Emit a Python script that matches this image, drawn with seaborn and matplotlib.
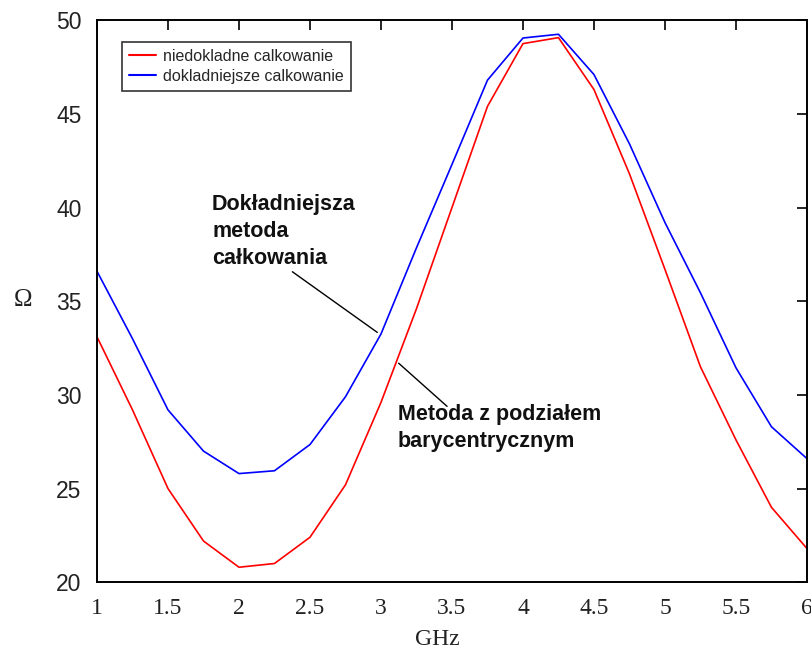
import matplotlib
matplotlib.use("Agg")
import matplotlib.pyplot as plt
import seaborn as sns
import pandas as pd

# ---- data ----
freq_ghz = [1.0, 1.25, 1.5, 1.75, 2.0, 2.25, 2.5, 2.75, 3.0, 3.25, 3.5,
            3.75, 4.0, 4.25, 4.5, 4.75, 5.0, 5.25, 5.5, 5.75, 6.0]
niedokladne = [33.1, 29.2, 25.0, 22.2, 20.8, 21.0, 22.4, 25.2, 29.6, 34.6, 40.0,
               45.4, 48.75, 49.07, 46.3, 41.8, 36.7, 31.5, 27.6, 24.0, 21.8]
dokladniejsze = [36.6, 33.0, 29.2, 27.0, 25.8, 25.95, 27.35, 29.9, 33.25, 37.85, 42.3,
                 46.8, 49.05, 49.25, 47.1, 43.4, 39.2, 35.45, 31.45, 28.3, 26.6]
series_labels = ["niedokladne calkowanie", "dokladniejsze calkowanie"]
series_colors = ["#ff0000", "#0000ff"]
x_ticks = [1, 1.5, 2, 2.5, 3, 3.5, 4, 4.5, 5, 5.5, 6]
x_tick_labels = ["1", "1.5", "2", "2.5", "3", "3.5", "4", "4.5", "5", "5.5", "6"]
y_ticks = [20, 25, 30, 35, 40, 45, 50]

df = pd.DataFrame({
    "GHz": freq_ghz * 2,
    "Omega": niedokladne + dokladniejsze,
    "seria": [series_labels[0]] * len(freq_ghz) + [series_labels[1]] * len(freq_ghz),
})

sns.set_style("white")
plt.rcParams["font.family"] = ["Liberation Sans", "DejaVu Sans"]

fig = plt.figure(figsize=(8.11, 6.52), dpi=100)
ax = fig.add_axes([0.1196, 0.107, 0.8754, 0.862])

sns.lineplot(data=df, x="GHz", y="Omega", hue="seria", hue_order=series_labels,
             palette=series_colors, linewidth=1.2, ax=ax, sort=False)

ax.set_xlim(1, 6)
ax.set_ylim(20, 50)
ax.set_xticks(x_ticks)
ax.set_xticklabels(x_tick_labels, fontfamily="Liberation Serif", fontsize=17)
ax.set_yticks(y_ticks)
ax.set_yticklabels([str(v) for v in y_ticks], fontfamily="Liberation Sans", fontsize=16.5)
ax.tick_params(direction="in", length=7, width=1.2, top=True, right=True,
               colors="black")
ax.tick_params(axis="x", pad=11)
ax.tick_params(axis="y", pad=11)
for lab in ax.get_yticklabels():
    lab.set_color("#222222")
for lab in ax.get_xticklabels():
    lab.set_color("#222222")
for sp in ax.spines.values():
    sp.set_color("black")
    sp.set_linewidth(1.4)

ax.set_xlabel("GHz", fontfamily="Liberation Serif", fontsize=17, color="#222222")
ax.xaxis.label.set_va("center")
ax.xaxis.set_label_coords(0.479, -0.101)
ax.set_ylabel("Ω", fontfamily="Liberation Serif", fontsize=18, rotation=0,
              va="center", ha="center", color="#222222")
ax.yaxis.set_label_coords(-0.104, 0.502)

leg = ax.legend(loc="upper left", bbox_to_anchor=(0.035, 0.962), borderaxespad=0,
                fontsize=11.5, frameon=True, fancybox=False, handlelength=1.7,
                labelspacing=0.3, borderpad=0.45, handletextpad=0.45)
leg.get_frame().set_edgecolor("black")
leg.get_frame().set_linewidth(1.2)
for line in leg.get_lines():
    line.set_linewidth(1.5)

# annotations
ax.text(1.81, 40.75, "Dokładniejsza\nmetoda\ncałkowania", fontsize=15.5,
        fontweight="bold", va="top", ha="left", linespacing=1.38, color="#111111")
ax.annotate("", xy=(2.99, 33.25), xytext=(2.36, 36.66),
            arrowprops=dict(arrowstyle="-", color="black", lw=1.0))
ax.text(3.12, 29.5, "Metoda z podziałem\nbarycentrycznym", fontsize=15.5,
        fontweight="bold", va="top", ha="left", linespacing=1.38, color="#111111")
ax.annotate("", xy=(3.11, 31.79), xytext=(3.48, 29.29),
            arrowprops=dict(arrowstyle="-", color="black", lw=1.0))

fig.savefig("out.png", dpi=100, facecolor="white")
